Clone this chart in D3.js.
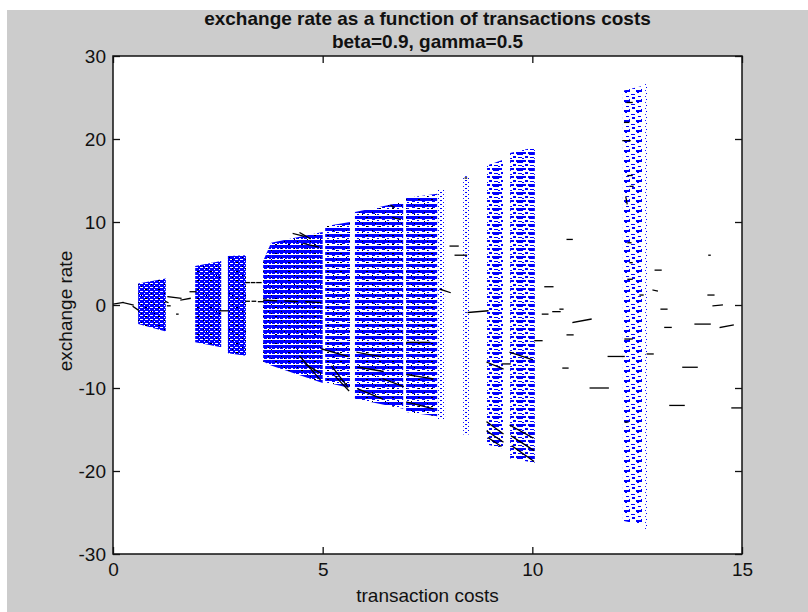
<!DOCTYPE html>
<html>
<head>
<meta charset="utf-8">
<script src="https://cdn.jsdelivr.net/npm/d3@7"></script>
<style>
  html, body { margin: 0; padding: 0; background: #ffffff; }
  svg { display: block; }
  text { font-family: "Liberation Sans", Arial, Helvetica, sans-serif; fill: #111; }
</style>
</head>
<body>
<svg id="fig" width="808" height="612"></svg>
<script>
// ---- data -------------------------------------------------------------
// Blue solution bands: x extent and the upper / lower envelope at each edge
const bandStart  = [0.60, 1.96, 2.74, 3.58, 3.77, 5.06, 5.77, 6.99, 7.75, 8.35, 8.92, 9.47, 12.16, 12.69];
const bandEnd    = [1.26, 2.58, 3.17, 3.77, 5.00, 5.65, 6.92, 7.73, 7.92, 8.51, 9.30, 10.06, 12.62, 12.78];
const upperStart = [2.6, 4.7, 5.9, 5.3, 7.5, 9.5, 11.2, 12.9, 13.9, 15.5, 16.8, 18.3, 25.8, 26.8];
const upperEnd   = [3.2, 5.3, 6.0, 7.5, 8.8, 10.0, 12.4, 13.4, 13.9, 15.5, 17.5, 19.0, 26.4, 26.8];
const lowerStart = [-2.3, -4.5, -5.8, -6.8, -7.3, -9.3, -11.3, -12.9, -13.8, -15.6, -16.8, -18.5, -26.0, -27.0];
const lowerEnd   = [-3.2, -5.1, -6.1, -7.3, -9.4, -10.0, -12.5, -13.4, -13.8, -15.6, -17.3, -19.0, -26.5, -27.0];

// Black branch pieces: [x0, y0, x1, y1]
const blackSegments = [
  [0.00, 0.1, 0.24, 0.3], [0.24, 0.3, 0.48, 0.0], [0.48, -0.2, 0.60, -0.6],
  [1.26, 0.4, 1.31, 0.3], [1.31, 1.0, 1.62, 0.8], [1.62, 0.6, 1.84, 0.8], [1.84, 1.6, 1.98, 1.6],
  [1.52, -1.1, 1.55, -1.1], [1.30, -0.1, 1.36, -0.1],
  [2.55, -0.7, 2.74, -0.7],
  [3.17, 2.7, 3.25, 2.7], [3.30, 2.7, 3.38, 2.7], [3.43, 2.7, 3.53, 2.7],
  [3.17, 0.45, 3.25, 0.45], [3.32, 0.45, 3.40, 0.45], [3.47, 0.4, 3.58, 0.4],
  [3.60, 0.6, 3.90, 0.5], [4.10, 0.5, 4.40, 0.4], [4.60, 0.4, 4.95, 0.3],
  [4.30, 8.6, 4.55, 8.3], [4.55, 7.4, 4.90, 7.0], [4.46, 8.7, 4.70, 8.0],
  [4.46, -6.2, 4.94, -9.0], [4.60, -7.2, 4.95, -8.2],
  [4.98, -5.3, 5.60, -6.2], [5.22, -7.4, 5.60, -9.9], [5.30, -8.6, 5.62, -10.3],
  [5.82, -5.7, 6.37, -6.2], [5.84, -7.5, 6.44, -8.0], [5.84, -10.1, 6.42, -11.3], [6.44, -8.9, 6.92, -9.8],
  [6.63, 12.0, 6.70, 11.8], [6.70, 10.5, 6.85, 10.3],
  [7.01, -4.5, 7.55, -4.5], [7.01, -8.4, 7.63, -8.9], [7.01, -11.7, 7.63, -12.5],
  [7.80, 1.9, 8.04, 1.5], [8.04, 7.1, 8.23, 7.1], [8.16, 6.0, 8.43, 6.0],
  [8.40, 15.3, 8.43, 15.3],
  [8.47, -0.9, 8.94, -0.7],
  [8.92, -6.9, 9.30, -7.7], [9.28, -7.1, 9.47, -7.1],
  [8.92, -14.1, 9.30, -15.5], [8.92, -15.2, 9.30, -16.5], [8.95, -16.0, 9.25, -17.0],
  [9.47, -5.7, 10.00, -6.6],
  [9.47, -14.5, 10.01, -16.0], [9.50, -15.8, 10.03, -17.5], [9.52, -17.0, 10.03, -18.8],
  [10.06, -4.3, 10.23, -4.3], [10.24, -1.1, 10.37, -1.1], [10.30, 2.2, 10.49, 2.2], [10.49, -0.8, 10.66, -0.8],
  [10.66, -0.5, 10.73, -0.5], [10.73, -7.6, 10.85, -7.6], [10.83, -3.6, 10.97, -3.6], [10.83, 7.9, 10.95, 7.9],
  [10.97, -2.1, 11.40, -1.7], [11.38, -10.0, 11.81, -10.0], [11.81, -6.2, 12.19, -6.2],
  [12.26, 24.4, 12.38, 24.4], [12.20, 22.0, 12.30, 22.0], [12.16, 19.8, 12.33, 19.8], [12.28, 15.6, 12.38, 15.6],
  [12.33, 14.3, 12.40, 14.3], [12.23, 13.0, 12.26, 12.2], [12.28, 7.5, 12.35, 7.5], [12.33, 5.1, 12.38, 5.1],
  [12.28, 3.1, 12.38, 3.1], [12.21, -4.1, 12.38, -4.1], [12.21, -14.1, 12.28, -14.1],
  [12.57, 1.2, 12.64, 1.2], [12.74, -5.9, 12.88, -5.9], [12.88, 1.8, 12.98, 1.7], [12.93, 4.2, 13.07, 4.2],
  [13.07, -0.5, 13.21, -0.5], [13.16, -2.7, 13.31, -2.7], [13.28, -12.1, 13.62, -12.1], [13.59, -7.5, 13.93, -7.5],
  [13.88, -2.3, 14.24, -2.3], [14.19, 1.2, 14.33, 1.2], [14.21, 6.0, 14.24, 6.0], [14.31, -0.1, 14.53, 0.0],
  [14.48, -2.7, 14.79, -2.4], [14.76, -12.4, 15.02, -12.4]
];

const xTicks = [0, 5, 10, 15];
const yTicks = [-30, -20, -10, 0, 10, 20, 30];
const titleLines = ["exchange rate as a function of transactions costs", "beta=0.9, gamma=0.5"];
const xLabel = "transaction costs";
const yLabel = "exchange rate";

// ---- layout -----------------------------------------------------------
const W = 808, H = 612;
const plot = { left: 113, right: 742, top: 56, bottom: 554 };
const BLUE = "#0000ff";

const svg = d3.select("#fig");
const defs = svg.append("defs");

// figure background
svg.append("rect").attr("x", 0).attr("y", 0).attr("width", W).attr("height", H).attr("fill", "#ffffff");
svg.append("rect").attr("x", 7).attr("y", 10).attr("width", W - 7).attr("height", H - 10).attr("fill", "#cccccc");

const x = d3.scaleLinear().domain([0, 15]).range([plot.left, plot.right]);
const y = d3.scaleLinear().domain([-30, 30]).range([plot.bottom, plot.top]);

defs.append("clipPath").attr("id", "plotClip")
  .append("rect")
  .attr("x", plot.left).attr("y", plot.top)
  .attr("width", plot.right - plot.left).attr("height", plot.bottom - plot.top);

// ---- textures for the point clouds (tiles of little dots / dashes) -----
function texture(id, w, h, rects, color, bg) {
  const p = defs.append("pattern").attr("id", id)
    .attr("patternUnits", "userSpaceOnUse")
    .attr("width", w).attr("height", h);
  if (bg) p.append("rect").attr("width", w).attr("height", h).attr("fill", bg);
  rects.forEach(r => p.append("rect")
    .attr("x", r[0]).attr("y", r[1]).attr("width", r[2]).attr("height", r[3])
    .attr("fill", color));
}
texture("tex-dense", 5, 4, [[0, 3, 3, 1], [4, 1, 1, 1]], "#ffffff", BLUE);
texture("tex-rowsdense", 8, 5, [[3, 3, 2, 1], [7, 3, 1, 1], [0, 4, 8, 1]], "#ffffff", BLUE);
texture("tex-rows", 10, 6, [[0, 0, 10, 3], [2, 3, 3, 1], [7, 4, 2, 1]], BLUE);
texture("tex-dashes", 12, 8, [[0, 0, 10, 2], [1, 2, 6, 1], [9, 4, 3, 2], [2, 5, 4, 1], [6, 6, 2, 1]], BLUE);
texture("tex-dots", 5, 4, [[0, 0, 2, 1], [3, 2, 1, 1]], BLUE);
texture("tex-sparse", 12, 10, [[0, 0, 6, 2], [1, 2, 2, 1], [7, 4, 4, 1], [2, 6, 3, 1], [8, 7, 3, 2], [5, 9, 1, 1]], BLUE);
texture("tex-thin", 4, 6, [[1, 0, 1, 1], [2, 3, 1, 1]], BLUE);
texture("tex-specks", 13, 9, [[2, 1, 2, 1], [8, 5, 1, 1], [11, 7, 1, 1]], "#000000");

const bandTexture = ["tex-dense", "tex-dense", "tex-dense", "tex-rowsdense", "tex-rowsdense",
  "tex-rows", "tex-rows", "tex-rows", "tex-dots", "tex-dots", "tex-dashes", "tex-dashes",
  "tex-sparse", "tex-thin"];
const speckled = [true, true, true, true, true, true, true, true, false, false, false, false, false, false];

// ---- plot area --------------------------------------------------------
svg.append("rect")
  .attr("x", plot.left).attr("y", plot.top)
  .attr("width", plot.right - plot.left).attr("height", plot.bottom - plot.top)
  .attr("fill", "#ffffff");

const area = svg.append("g").attr("clip-path", "url(#plotClip)");

const bands = bandStart.map((s, i) => ({
  pts: [[s, upperStart[i]], [bandEnd[i], upperEnd[i]], [bandEnd[i], lowerEnd[i]], [s, lowerStart[i]]],
  tex: bandTexture[i], speck: speckled[i]
}));
const poly = d => d.pts.map(p => [x(p[0]), y(p[1])].join(",")).join(" ");

area.selectAll("polygon.band").data(bands).join("polygon")
  .attr("class", "band")
  .attr("points", poly)
  .attr("fill", d => `url(#${d.tex})`);

area.selectAll("polygon.speck").data(bands.filter(d => d.speck)).join("polygon")
  .attr("class", "speck")
  .attr("points", poly)
  .attr("fill", "url(#tex-specks)");

area.selectAll("line.branch").data(blackSegments).join("line")
  .attr("class", "branch")
  .attr("x1", d => x(d[0])).attr("y1", d => y(d[1]))
  .attr("x2", d => x(d[2])).attr("y2", d => y(d[3]))
  .attr("stroke", "#000").attr("stroke-width", 1.3).attr("stroke-linecap", "square");

// ---- axes box with inward ticks ---------------------------------------
const TICK = 7;
const fontSize = 19;
const plain = d => String(d);   // ASCII hyphen for negatives
const styleAxis = g => {
  g.select(".domain").remove();
  g.selectAll(".tick line").attr("stroke", "#111").attr("stroke-width", 1.3);
  g.selectAll(".tick text").attr("font-size", fontSize).attr("fill", "#111")
    .attr("font-family", "Liberation Sans, Arial, sans-serif");
};

svg.append("g").attr("transform", `translate(0,${plot.bottom})`)
  .call(d3.axisBottom(x).tickValues(xTicks).tickFormat(plain).tickSizeInner(-TICK).tickSizeOuter(0).tickPadding(9))
  .call(styleAxis);
svg.append("g").attr("transform", `translate(0,${plot.top})`)
  .call(d3.axisTop(x).tickValues(xTicks).tickFormat("").tickSizeInner(-TICK).tickSizeOuter(0))
  .call(styleAxis);
svg.append("g").attr("transform", `translate(${plot.left},0)`)
  .call(d3.axisLeft(y).tickValues(yTicks).tickFormat(plain).tickSizeInner(-TICK).tickSizeOuter(0).tickPadding(7))
  .call(styleAxis);
svg.append("g").attr("transform", `translate(${plot.right},0)`)
  .call(d3.axisRight(y).tickValues(yTicks).tickFormat("").tickSizeInner(-TICK).tickSizeOuter(0))
  .call(styleAxis);

svg.append("rect")
  .attr("x", plot.left).attr("y", plot.top)
  .attr("width", plot.right - plot.left).attr("height", plot.bottom - plot.top)
  .attr("fill", "none").attr("stroke", "#111").attr("stroke-width", 1.5);

// ---- titles and labels -------------------------------------------------
const cx = (plot.left + plot.right) / 2;
svg.selectAll("text.title").data(titleLines).join("text")
  .attr("class", "title")
  .attr("x", cx).attr("y", (d, i) => 25 + i * 23)
  .attr("text-anchor", "middle")
  .attr("font-size", fontSize).attr("font-weight", "bold")
  .text(d => d);

svg.append("text")
  .attr("x", cx).attr("y", 602)
  .attr("text-anchor", "middle").attr("font-size", fontSize)
  .text(xLabel);

svg.append("text")
  .attr("transform", `translate(72,${(plot.top + plot.bottom) / 2 + 6}) rotate(-90)`)
  .attr("text-anchor", "middle").attr("font-size", fontSize)
  .text(yLabel);
</script>
</body>
</html>
